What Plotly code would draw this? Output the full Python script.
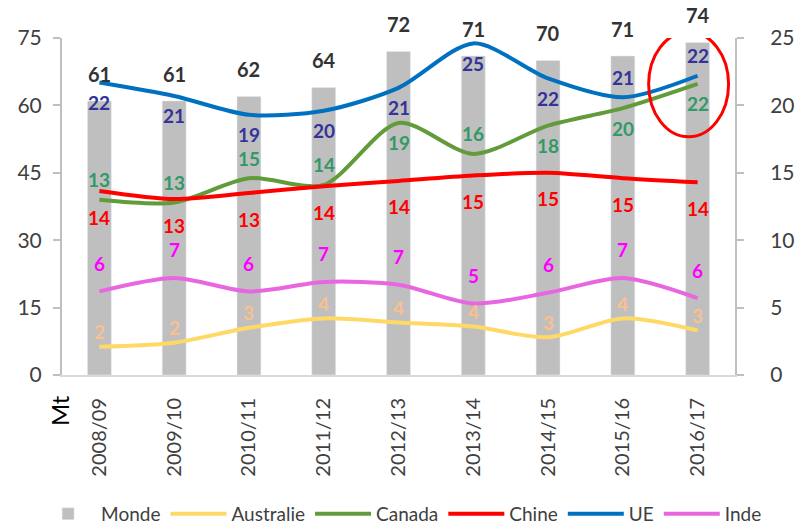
import plotly.graph_objects as go

campagnes = ["2008/09", "2009/10", "2010/11", "2011/12", "2012/13",
             "2013/14", "2014/15", "2015/16", "2016/17"]
monde = [61, 61, 62, 64, 72, 71, 70, 71, 74]
australie = [2.1, 2.4, 3.5, 4.2, 3.9, 3.6, 2.8, 4.2, 3.3]
canada = [13.0, 12.8, 14.6, 14.1, 18.7, 16.4, 18.5, 19.8, 21.6]
chine = [13.65, 13.05, 13.5, 14.0, 14.4, 14.8, 15.0, 14.6, 14.3]
ue = [21.7, 20.7, 19.3, 19.6, 21.3, 24.6, 22.0, 20.6, 22.2]
inde = [6.2, 7.2, 6.2, 6.9, 6.7, 5.3, 6.1, 7.2, 5.7]

monde_lbl = [61, 61, 62, 64, 72, 71, 70, 71, 74]
australie_lbl = [2, 2, 3, 4, 4, 4, 3, 4, 3]
canada_lbl = [13, 13, 15, 14, 19, 16, 18, 20, 22]
chine_lbl = [14, 13, 13, 14, 14, 15, 15, 15, 14]
ue_lbl = [22, 21, 19, 20, 21, 25, 22, 21, 22]
inde_lbl = [6, 7, 6, 7, 7, 5, 6, 7, 6]

# label side (+1 above, -1 below) per point
canada_side = [1, 1, 1, 1, -1, 1, -1, -1, -1]
ue_side = [-1, -1, -1, -1, -1, -1, -1, 1, 1]

FONT = "Lato"
TXT = "#404040"

fig = go.Figure()
fig.add_trace(go.Bar(x=campagnes, y=monde, name="Monde", marker_color="#BFBFBF",
                     width=0.32, yaxis="y"))

series = [
    ("Australie", australie, "#FFD966"),
    ("Canada", canada, "#629B3A"),
    ("Chine", chine, "#FF0000"),
    ("UE", ue, "#0070C0"),
    ("Inde", inde, "#E866E0"),
]
for name, vals, col in series:
    fig.add_trace(go.Scatter(x=campagnes, y=vals, name=name, yaxis="y2", mode="lines",
                             line=dict(color=col, width=4, shape="spline", smoothing=0.8)))

ann = []
for c, v, t in zip(campagnes, monde, monde_lbl):
    ann.append(dict(x=c, y=v, xref="x", yref="y", text=f"<b>{t}</b>", showarrow=False,
                    yshift=27, font=dict(family=FONT, size=20, color="#333333")))

def add_labels(vals, lbls, color, sides, shift):
    for c, v, t, s in zip(campagnes, vals, lbls, sides):
        ann.append(dict(x=c, y=v, xref="x", yref="y2", text=f"<b>{t}</b>", showarrow=False,
                        yshift=s * shift, font=dict(family=FONT, size=19, color=color)))

n = len(campagnes)
add_labels(australie, australie_lbl, "#FAC090", [1] * n, 15)
add_labels(canada, canada_lbl, "#339966", canada_side, 20)
add_labels(chine, chine_lbl, "#FF0000", [-1] * n, 26)
add_labels(ue, ue_lbl, "#333399", ue_side, 20)
add_labels(inde, inde_lbl, "#FF00FF", [1] * n, 28)

ann.append(dict(x=-0.028, y=-0.157, xref="paper", yref="paper", text="Mt", textangle=-90,
                showarrow=False, font=dict(family=FONT, size=24, color="#000000")))

fig.update_layout(
    annotations=ann,
    width=795, height=525,
    margin=dict(l=62, r=60, t=38, b=150, autoexpand=False),
    plot_bgcolor="white", paper_bgcolor="white",
    font=dict(family=FONT, color=TXT),
    showlegend=True,
    legend=dict(orientation="h", x=-0.04, xanchor="left", y=-0.412, yanchor="middle",
                itemwidth=56, font=dict(family=FONT, size=19, color=TXT),
                traceorder="normal"),
    xaxis=dict(type="category", tickangle=-90, showline=True, linecolor="#D9D9D9",
               linewidth=2, ticks="", ticklabelstandoff=13,
               tickfont=dict(family=FONT, size=20, color=TXT), showgrid=False),
    yaxis=dict(range=[0, 75], dtick=15, showline=True, linecolor="#BFBFBF", linewidth=2,
               ticks="outside", ticklen=7, tickcolor="#BFBFBF", tickwidth=2,
               showgrid=False, zeroline=False, automargin=False, ticklabelstandoff=7,
               tickfont=dict(family=FONT, size=21, color=TXT)),
    yaxis2=dict(range=[0, 25], dtick=5, overlaying="y", side="right", showline=True,
                linecolor="#BFBFBF", linewidth=2, ticks="outside", ticklen=7,
                tickcolor="#BFBFBF", tickwidth=2, showgrid=False, zeroline=False,
                automargin=False, ticklabelstandoff=22,
                tickfont=dict(family=FONT, size=21, color=TXT)),
)

# red ellipse highlighting the last campaign
last = n - 1
fig.add_shape(type="circle", xref="x", yref="y", x0=last - 0.655, x1=last + 0.414,
              y0=53.0, y1=76.4, line=dict(color="#FF0000", width=3))

fig.write_html("out.html", post_script="document.body.style.margin='0';",
               config={"displayModeBar": False})
